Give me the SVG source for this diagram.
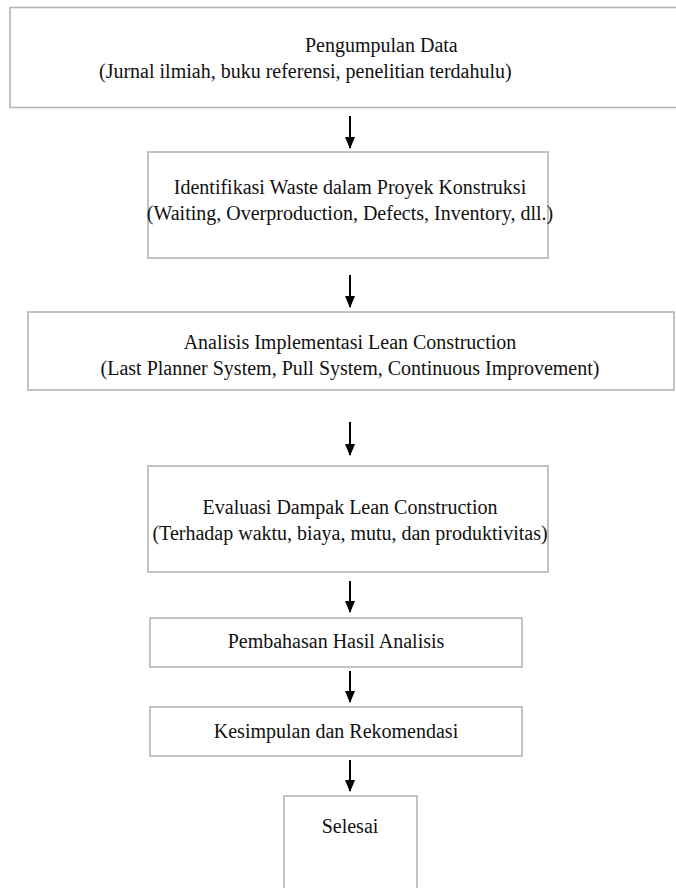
<svg xmlns="http://www.w3.org/2000/svg" width="676" height="888" viewBox="0 0 676 888">
<style>
.box{fill:#ffffff;stroke:#b4b4b4;stroke-width:1.6}
.t{font-family:"Liberation Serif","Times New Roman",serif;font-size:20px;fill:#111}
.c{text-anchor:middle}
.arr{stroke:#000;stroke-width:2;fill:none;marker-end:url(#ah)}
</style>
<defs>
<marker id="ah" markerWidth="12" markerHeight="10" refX="11" refY="5" orient="auto" markerUnits="userSpaceOnUse" viewBox="0 0 12 10">
<path d="M0,0 L12,5 L0,10 Z" fill="#000"/>
</marker>
</defs>
<rect width="676" height="888" fill="#ffffff"/>
<g id="n1">
<rect class="box" x="10" y="7.5" width="680" height="100"/>
<text class="t" x="305" y="52">Pengumpulan Data</text>
<text class="t" x="99" y="78">(Jurnal ilmiah, buku referensi, penelitian terdahulu)</text>
</g>
<g id="n2">
<rect class="box" x="148" y="152" width="400" height="106"/>
<text class="t c" x="350" y="194">Identifikasi Waste dalam Proyek Konstruksi</text>
<text class="t c" x="350" y="220">(Waiting, Overproduction, Defects, Inventory, dll.)</text>
</g>
<g id="n3">
<rect class="box" x="28" y="312" width="646" height="78"/>
<text class="t c" x="350" y="349">Analisis Implementasi Lean Construction</text>
<text class="t c" x="350" y="375">(Last Planner System, Pull System, Continuous Improvement)</text>
</g>
<g id="n4">
<rect class="box" x="148" y="466" width="400" height="106"/>
<text class="t c" x="350" y="514">Evaluasi Dampak Lean Construction</text>
<text class="t c" x="350" y="540">(Terhadap waktu, biaya, mutu, dan produktivitas)</text>
</g>
<g id="n5">
<rect class="box" x="150" y="618" width="372" height="49"/>
<text class="t c" x="336" y="648">Pembahasan Hasil Analisis</text>
</g>
<g id="n6">
<rect class="box" x="150" y="707" width="372" height="49"/>
<text class="t c" x="336" y="738">Kesimpulan dan Rekomendasi</text>
</g>
<g id="n7">
<rect class="box" x="284" y="796" width="133" height="100"/>
<text class="t c" x="350" y="833">Selesai</text>
</g>
<g id="connectors">
<line class="arr" x1="350" y1="116" x2="350" y2="148"/>
<line class="arr" x1="350" y1="275" x2="350" y2="307"/>
<line class="arr" x1="350" y1="422" x2="350" y2="455"/>
<line class="arr" x1="350" y1="581" x2="350" y2="612"/>
<line class="arr" x1="350" y1="671" x2="350" y2="702"/>
<line class="arr" x1="350" y1="760" x2="350" y2="791"/>
</g>
</svg>
